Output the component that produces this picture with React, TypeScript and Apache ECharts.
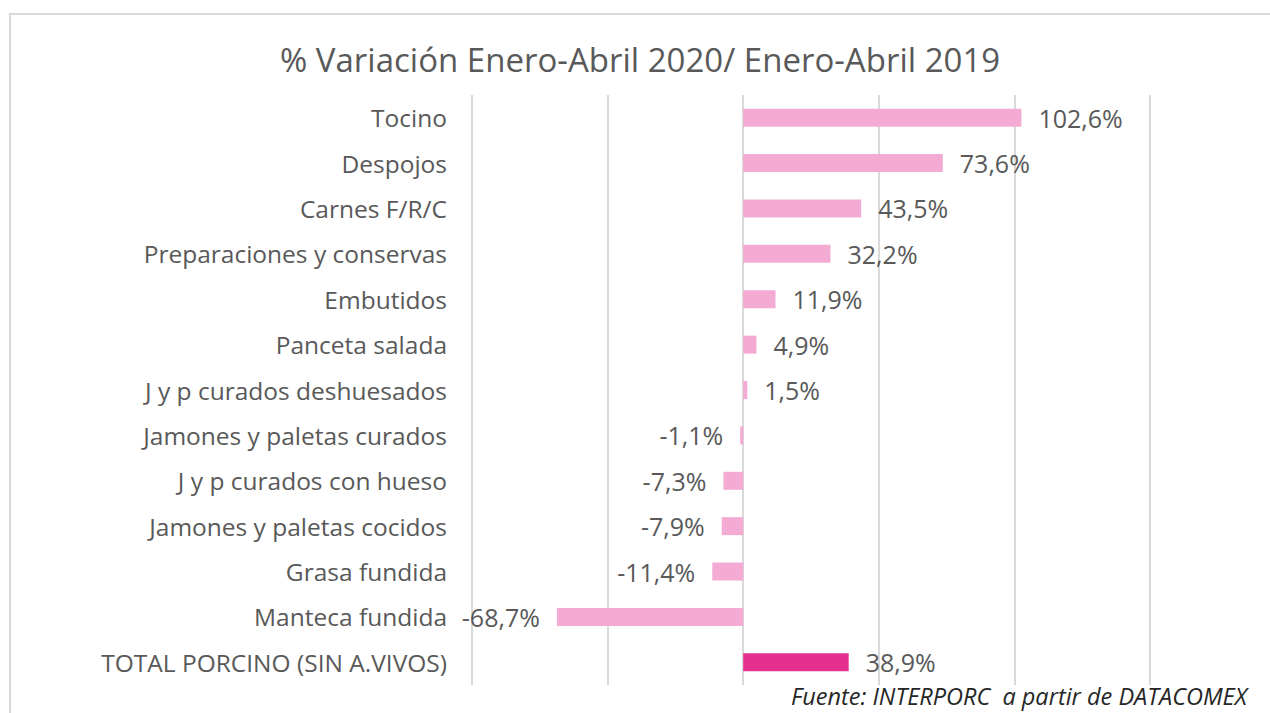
import React, { useEffect, useRef } from "react";
import * as echarts from "echarts";

const categories = [
  "Tocino",
  "Despojos",
  "Carnes F/R/C",
  "Preparaciones y conservas",
  "Embutidos",
  "Panceta salada",
  "J y p curados deshuesados",
  "Jamones y paletas curados",
  "J y p curados con hueso",
  "Jamones y paletas cocidos",
  "Grasa fundida",
  "Manteca fundida",
  "TOTAL PORCINO (SIN A.VIVOS)",
];
const values = [102.6, 73.6, 43.5, 32.2, 11.9, 4.9, 1.5, -1.1, -7.3, -7.9, -11.4, -68.7, 38.9];
const totalCategory = "TOTAL PORCINO (SIN A.VIVOS)";
const titleText = "% Variación Enero-Abril 2020/ Enero-Abril 2019";
const sourceText = "Fuente: INTERPORC  a partir de DATACOMEX";
const axisMin = -100;
const axisMax = 150;
const axisInterval = 50;

const FONT = "'Open Sans', 'Noto Sans', sans-serif";
const TEXT = "#595959";

export default function App() {
  const ref = useRef<HTMLDivElement>(null);
  useEffect(() => {
    if (!ref.current) return;
    const chart = echarts.init(ref.current, null, { renderer: "svg" });
    const fmt = (v: number) => v.toFixed(1).replace(".", ",") + "%";
    chart.setOption({
      animation: false,
      backgroundColor: "#ffffff",
      textStyle: { fontFamily: FONT },
      title: {
        text: titleText,
        left: 280,
        top: 43,
        padding: 0,
        textStyle: { fontFamily: FONT, fontSize: 33, fontWeight: "normal", color: TEXT },
      },
      grid: { left: 472, right: 120, top: 95, bottom: 28, containLabel: false },
      xAxis: {
        type: "value",
        min: axisMin,
        max: axisMax,
        interval: axisInterval,
        axisLabel: { show: false },
        axisLine: { show: false },
        axisTick: { show: false },
        splitLine: { show: true, lineStyle: { color: "#d9d9d9", width: 2 } },
      },
      yAxis: {
        type: "category",
        inverse: true,
        data: categories,
        axisLine: { show: false },
        axisTick: { show: false },
        axisLabel: { margin: 25, color: TEXT, fontSize: 24.5, fontFamily: FONT },
      },
      series: [
        {
          type: "bar",
          barWidth: 18,
          data: values.map((v, i) => ({
            value: v,
            itemStyle: { color: categories[i] === totalCategory ? "#e4308e" : "#f3abd3" },
            label: {
              show: true,
              position: v >= 0 ? "right" : "left",
              distance: 17,
              formatter: () => fmt(v),
              color: TEXT,
              fontSize: 25,
              lineHeight: 24,
              fontFamily: FONT,
            },
          })),
        },
      ],
      graphic: [
        {
          type: "rect",
          shape: { x: 10, y: 14, width: 1300, height: 760 },
          style: { fill: "none", stroke: "#d9d9d9", lineWidth: 2 },
          silent: true,
        },
        {
          type: "text",
          right: 23,
          top: 684,
          style: {
            text: sourceText,
            fill: "#262626",
            font: `italic 23.5px ${FONT}`,
            lineHeight: 18,
          },
        },
      ],
    });
    return () => chart.dispose();
  }, []);
  return (
    <div
      ref={ref}
      style={{ position: "fixed", left: 0, top: 0, width: 1270, height: 713 }}
    />
  );
}
